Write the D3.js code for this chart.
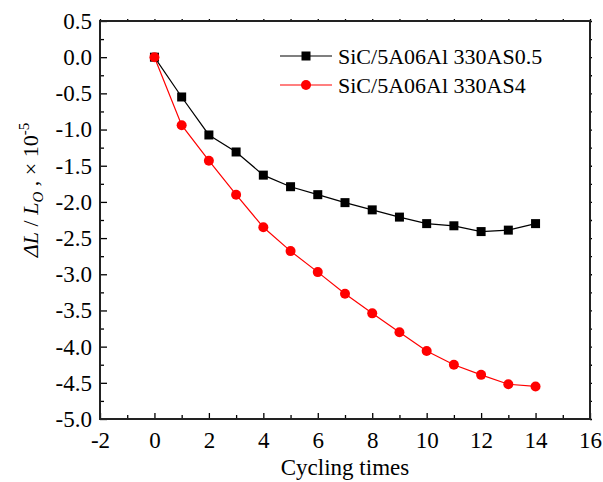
<!DOCTYPE html>
<html><head><meta charset="utf-8">
<script src="https://cdn.jsdelivr.net/npm/d3@7"></script>
<style>body{margin:0;background:#fff}svg{display:block}text{font-family:"Liberation Serif","Times New Roman",serif;fill:#000}</style>
</head><body><svg id="c" width="603" height="482"></svg>
<script>
const cycles = [0,1,2,3,4,5,6,7,8,9,10,11,12,13,14];
const seriesNames = ["SiC/5A06Al 330AS0.5","SiC/5A06Al 330AS4"];
const as05 = [0,-0.55,-1.075,-1.31,-1.63,-1.79,-1.90,-2.01,-2.11,-2.21,-2.30,-2.33,-2.41,-2.39,-2.30];
const as4 = [0,-0.94,-1.43,-1.90,-2.35,-2.68,-2.97,-3.27,-3.54,-3.80,-4.06,-4.25,-4.39,-4.52,-4.55];
const xTicks = [-2,0,2,4,6,8,10,12,14,16];
const yTicks = [0.5,0,-0.5,-1,-1.5,-2,-2.5,-3,-3.5,-4,-4.5,-5];
const colors = ["#000000","#ff0000"];

const FONT = '"Liberation Serif","Times New Roman",serif';
const svg = d3.select("#c");
const L=100,R=590,T=21,B=419;
const x = d3.scaleLinear().domain([-2,16]).range([L,R]);
const y = d3.scaleLinear().domain([-5,0.5]).range([B,T]);
const hy = f => (d => f(d).replace("\u2212","-"));

const xMinor = d3.range(-1,16,2);
const yMinor = d3.range(-4.75,0.5,0.5);

const g = svg.append("g");
g.append("g").attr("transform",`translate(0,${B})`)
  .call(d3.axisBottom(x).tickValues(xTicks).tickSize(-6).tickPadding(13).tickFormat(hy(d3.format("d"))));
g.append("g").attr("transform",`translate(0,${B})`)
  .call(d3.axisBottom(x).tickValues(xMinor).tickSize(-4).tickFormat(""));
g.append("g").attr("transform",`translate(${L},0)`)
  .call(d3.axisLeft(y).tickValues(yTicks).tickSize(-7).tickPadding(8).tickFormat(hy(d3.format(".1f"))));
g.append("g").attr("transform",`translate(${L},0)`)
  .call(d3.axisLeft(y).tickValues(yMinor).tickSize(-4).tickFormat(""));
g.append("g").attr("transform",`translate(${R},0)`)
  .call(d3.axisRight(y).tickValues(yTicks.concat(yMinor)).tickSize(2).tickFormat(""));
g.append("g").attr("transform",`translate(0,${T})`)
  .call(d3.axisTop(x).tickValues(xTicks.concat(xMinor)).tickSize(2).tickFormat(""));
g.selectAll("g").attr("font-family",FONT).attr("font-size",23);
g.selectAll(".tick text").attr("fill","#000");
g.selectAll(".domain").remove();
g.selectAll(".tick line").attr("stroke","#000").attr("stroke-width",1.3);
svg.append("rect").attr("x",L).attr("y",T).attr("width",R-L).attr("height",B-T)
  .attr("fill","none").attr("stroke","#222").attr("stroke-width",2);

const line = d3.line().x((d,i)=>x(cycles[i])).y(d=>y(d));
[as05,as4].forEach((s,k)=>{
  svg.append("path").datum(s).attr("d",line).attr("fill","none").attr("stroke",colors[k]).attr("stroke-width",1.2);
});
svg.selectAll(".sq").data(as05).enter().append("rect")
  .attr("x",(d,i)=>x(cycles[i])-4.5).attr("y",d=>y(d)-4.5).attr("width",9).attr("height",9).attr("fill","#000");
svg.selectAll(".ci").data(as4).enter().append("circle")
  .attr("cx",(d,i)=>x(cycles[i])).attr("cy",d=>y(d)).attr("r",5).attr("fill","#ff0000");

const legY = [56,85];
legY.forEach((ly,k)=>{
  svg.append("line").attr("x1",280).attr("x2",332).attr("y1",ly).attr("y2",ly).attr("stroke",colors[k]).attr("stroke-width",1.2);
  if(k===0) svg.append("rect").attr("x",306-4.5).attr("y",ly-4.5).attr("width",9).attr("height",9).attr("fill","#000");
  else svg.append("circle").attr("cx",306).attr("cy",ly).attr("r",5).attr("fill","#ff0000");
  svg.append("text").attr("x",338).attr("y",ly+8).attr("font-size",22).attr("font-family",FONT).text(seriesNames[k]);
});

svg.append("text").attr("x",(L+R)/2).attr("y",475).attr("text-anchor","middle").attr("font-size",23).attr("font-family",FONT).text("Cycling times");
const yt = svg.append("text").attr("transform","translate(38,190) rotate(-90)").attr("text-anchor","middle").attr("font-size",22).attr("font-family",FONT);
yt.append("tspan").attr("font-style","italic").text("ΔL");
yt.append("tspan").text(" / ");
yt.append("tspan").attr("font-style","italic").text("L");
yt.append("tspan").attr("font-style","italic").attr("font-size",15).attr("dy",5).text("O");
yt.append("tspan").attr("dy",-5).text(" , × 10");
yt.append("tspan").attr("font-size",15).attr("dy",-9).text("-5");
</script></body></html>
